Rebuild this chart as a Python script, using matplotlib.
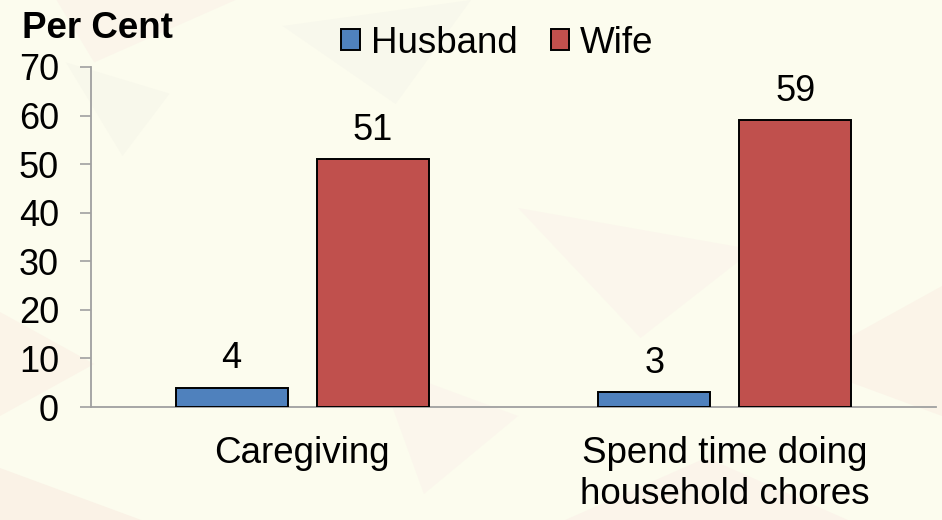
import matplotlib
matplotlib.use("Agg")
import matplotlib.pyplot as plt
from matplotlib.patches import Polygon
import numpy as np

categories = ["Caregiving", "Spend time doing\nhousehold chores"]
series_names = ["Husband", "Wife"]
husband = [4, 3]
wife = [51, 59]
y_ticks = [0, 10, 20, 30, 40, 50, 60, 70]

plt.rcParams['font.family'] = ['Liberation Sans', 'DejaVu Sans']

bg = '#FCFCEE'
fig = plt.figure(figsize=(9.42, 5.2), dpi=100, facecolor=bg)

# faint background texture (decorative triangles) in a background axes
bgax = fig.add_axes([0, 0, 1, 1], zorder=-10)
bgax.set_xlim(0, 1)
bgax.set_ylim(0, 1)
bgax.axis('off')
tris = [
    ([(0.06, 1.0), (0.25, 1.0), (0.10, 0.88)], '#FBF5EA'),
    ([(0.07, 0.88), (0.18, 0.82), (0.13, 0.70)], '#F8F8EB'),
    ([(0.55, 0.60), (0.80, 0.52), (0.68, 0.35)], '#FBF6EC'),
    ([(0.0, 0.40), (0.10, 0.30), (0.0, 0.20)], '#FBF4E8'),
    ([(0.40, 0.30), (0.55, 0.20), (0.45, 0.05)], '#FBF6EC'),
    ([(0.85, 0.30), (1.0, 0.20), (1.0, 0.45)], '#FBF4E8'),
    ([(0.60, 0.0), (0.75, 0.12), (0.90, 0.0)], '#FBF4EA'),
    ([(0.30, 0.95), (0.42, 0.80), (0.50, 1.0)], '#F8F8EC'),
    ([(0.0, 0.10), (0.15, 0.0), (0.0, 0.0)], '#FAF2E6'),
]
for pts, col in tris:
    bgax.add_patch(Polygon(pts, closed=True, facecolor=col, edgecolor='none'))

ax = fig.add_axes([0.0966, 0.2173, 0.8970, 0.6539], zorder=1)
ax.set_facecolor('none')

x = np.arange(len(categories))
w = 0.265
off = 0.167
blue = '#4F81BD'
red = '#C0504D'
b1 = ax.bar(x - off, husband, w, color=blue, edgecolor='black', linewidth=1.4,
            label=series_names[0], zorder=3)
b2 = ax.bar(x + off, wife, w, color=red, edgecolor='black', linewidth=1.4,
            label=series_names[1], zorder=3)

for bars, vals in ((b1, husband), (b2, wife)):
    for rect, v in zip(bars, vals):
        ax.annotate(str(v), (rect.get_x() + rect.get_width() / 2, v),
                    xytext=(0, 8), textcoords='offset points',
                    ha='center', va='bottom', fontsize=26, color='black')

ax.set_xlim(-0.5, 1.5)
ax.set_ylim(0, 70)
ax.set_yticks(y_ticks)
ax.set_yticklabels([str(t) for t in y_ticks], fontsize=26)
ax.set_xticks(x)
ax.set_xticklabels(categories, fontsize=26.5, linespacing=1.2)
ax.tick_params(axis='x', length=0, pad=21)
ax.tick_params(axis='y', length=8, width=1.2, color='#A0A0A0', pad=15, direction='out')

for s in ('top', 'right'):
    ax.spines[s].set_visible(False)
for s in ('left', 'bottom'):
    ax.spines[s].set_color('#A0A0A0')
    ax.spines[s].set_linewidth(1.3)

fig.text(22 / 942, 1 - 29 / 520, 'Per Cent', fontsize=26.5, fontweight='bold',
         ha='left', va='center')

leg = fig.legend(handles=[b1, b2], labels=series_names, loc='center',
                 bbox_to_anchor=(0.528, 0.917), ncol=2, frameon=False,
                 fontsize=26.5, handlelength=0.5, handleheight=0.5,
                 handletextpad=0.3, columnspacing=0.9, borderpad=0)

fig.savefig('out.png', dpi=100, facecolor=bg)
